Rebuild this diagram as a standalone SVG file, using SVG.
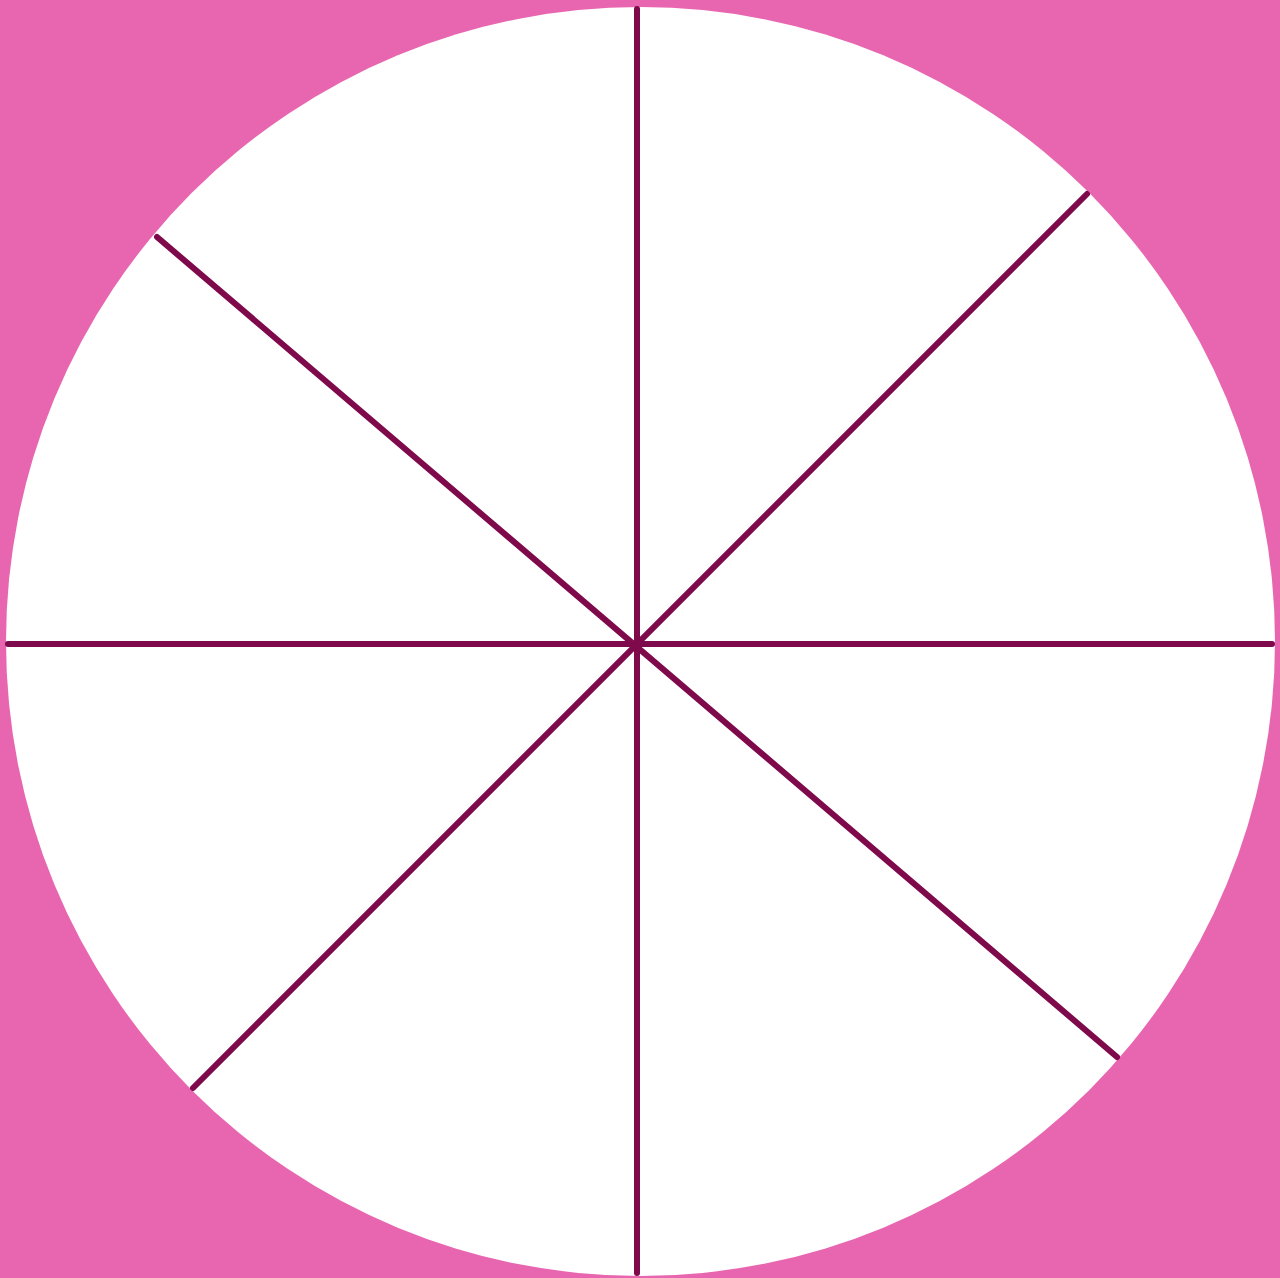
<svg xmlns="http://www.w3.org/2000/svg" width="1280" height="1278" viewBox="0 0 1280 1278">
<style>
.spoke{stroke:#7e0a4b;stroke-width:6;stroke-linecap:round;fill:none}
</style>
<rect x="0" y="0" width="1280" height="1278" fill="#e866b0"/>
<g id="wheel">
<circle cx="640.5" cy="641.5" r="634.5" fill="#ffffff"/>
</g>
<g id="connectors">
<line class="spoke" x1="637" y1="9" x2="637" y2="1273"/>
<line class="spoke" x1="8" y1="644" x2="1272" y2="644"/>
<line class="spoke" x1="1087" y1="194" x2="193" y2="1088"/>
<line class="spoke" x1="157" y1="237" x2="1117" y2="1057"/>
</g>
</svg>
